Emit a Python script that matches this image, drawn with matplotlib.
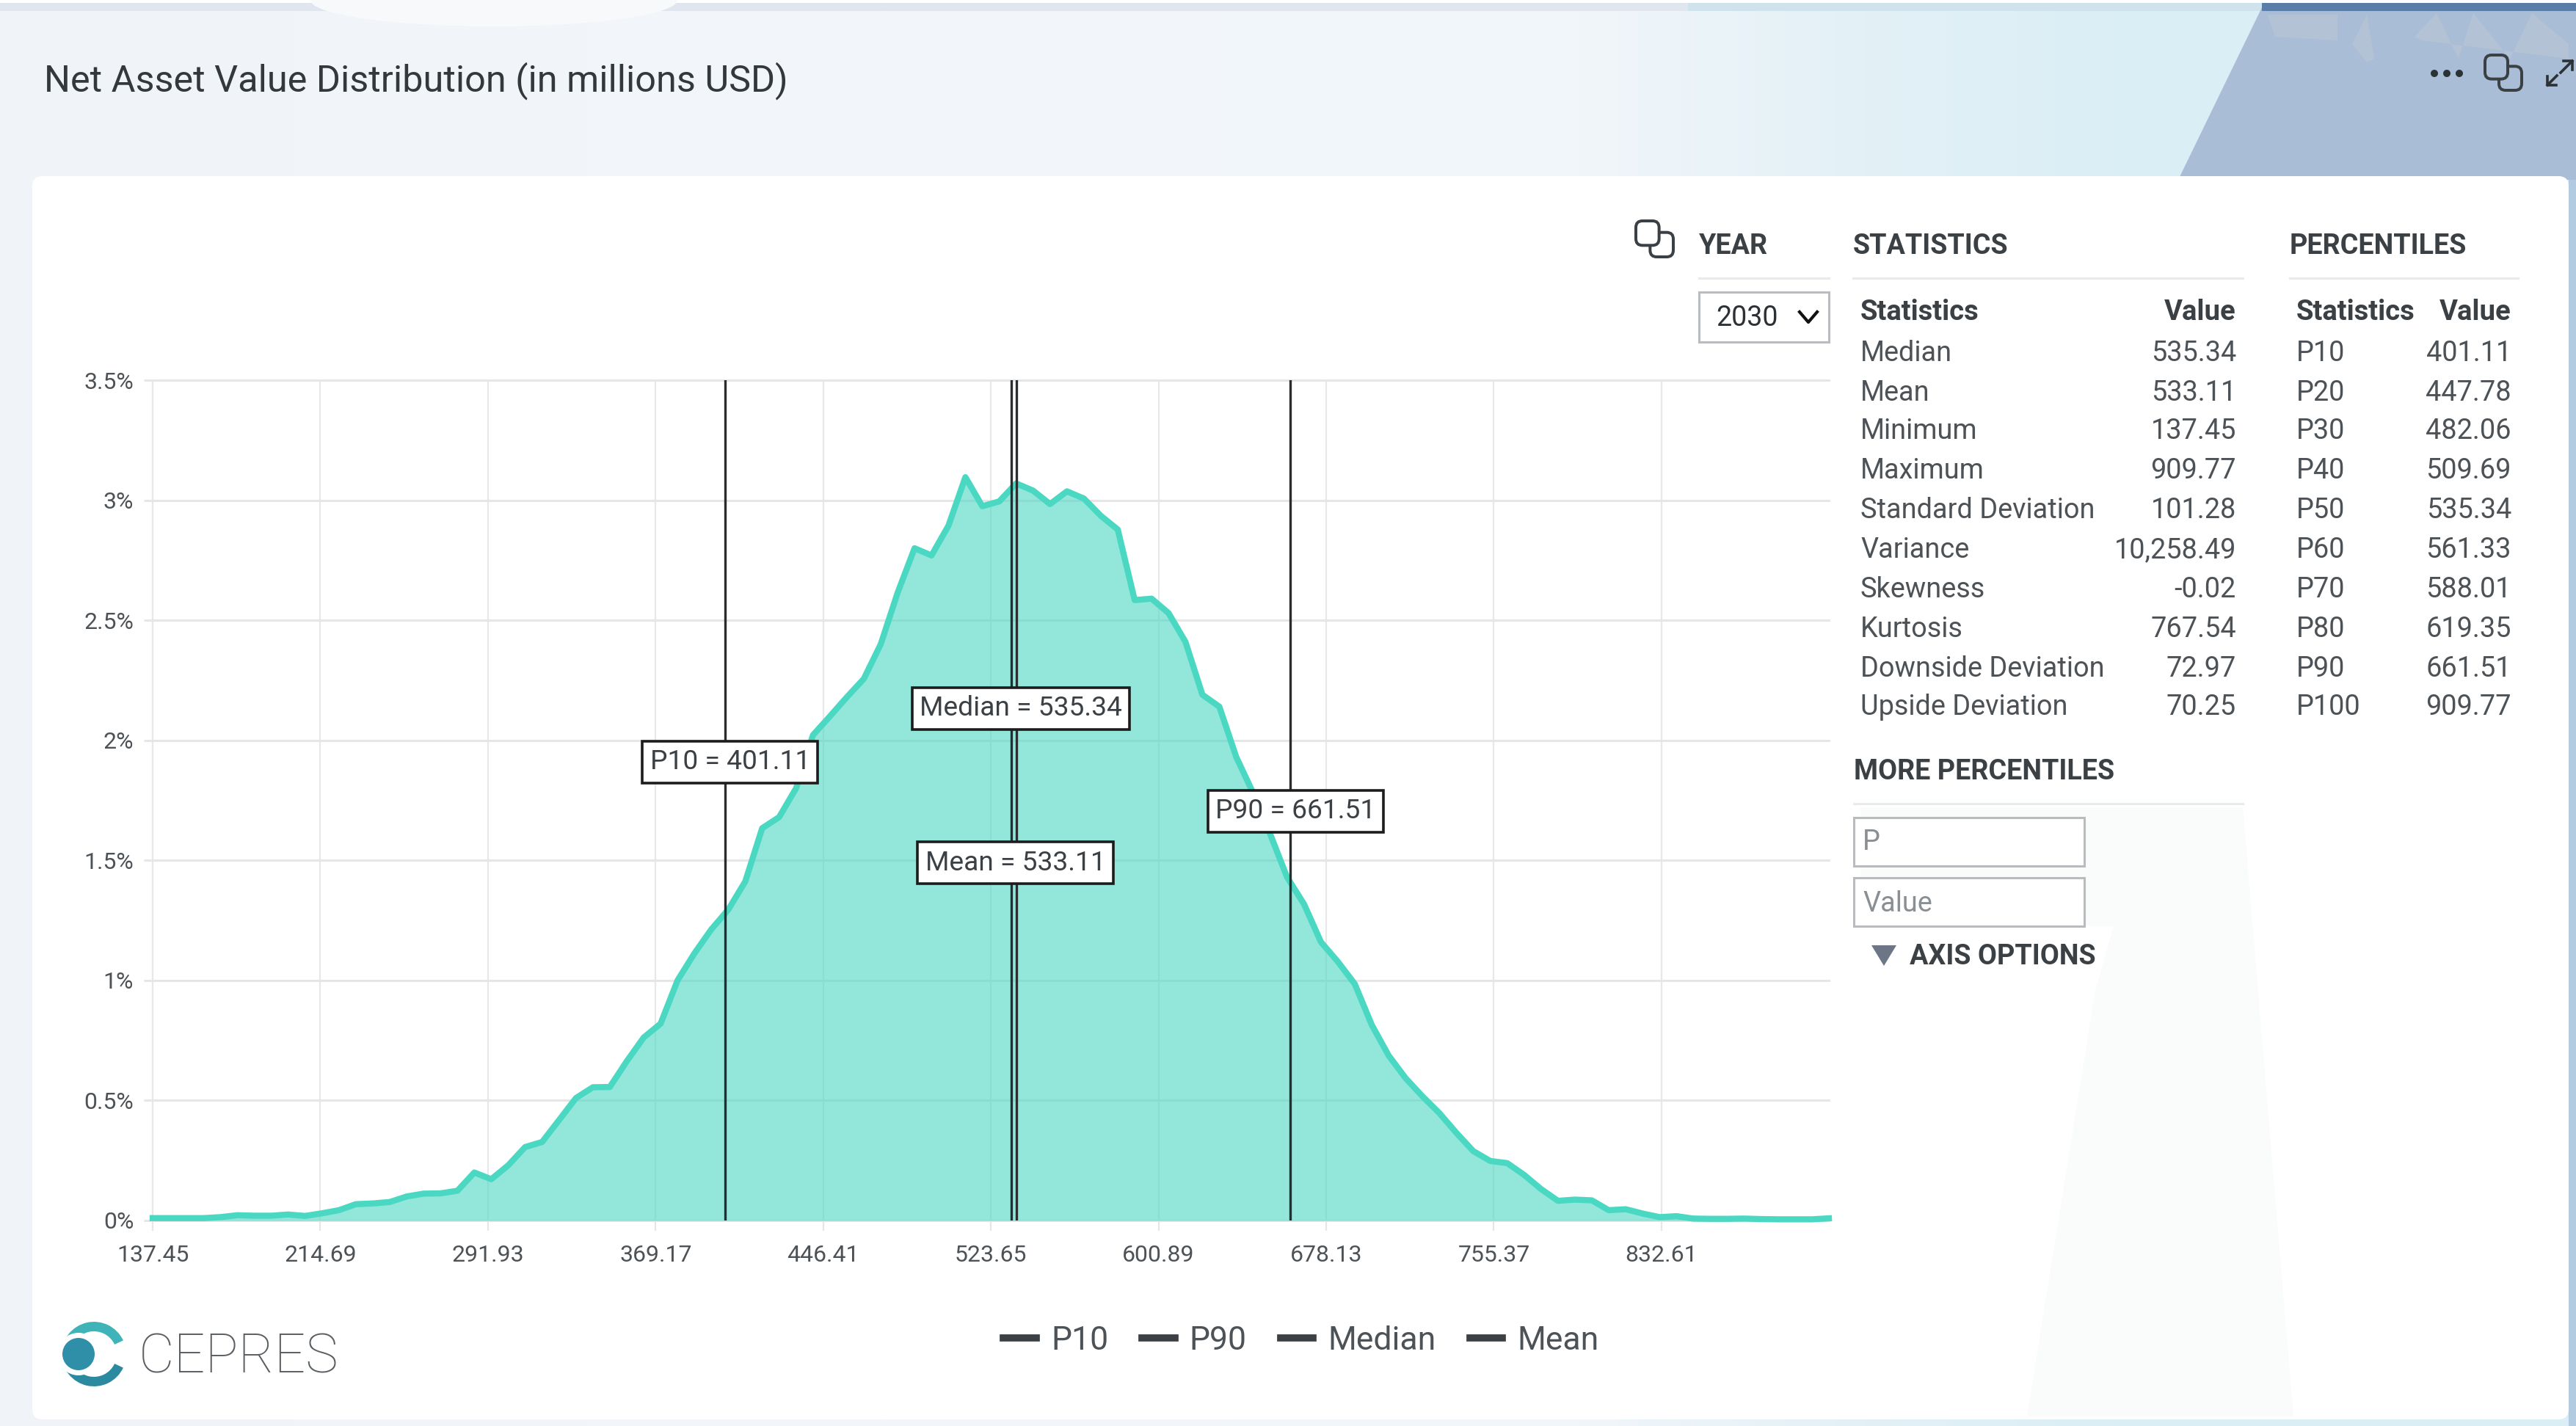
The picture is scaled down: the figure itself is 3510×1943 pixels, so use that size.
import numpy as np
import matplotlib
matplotlib.use("Agg")
import matplotlib.pyplot as plt
from matplotlib.patches import Polygon, Rectangle, FancyBboxPatch, Circle, Wedge, Ellipse

plt.rcParams['font.family'] = ['Roboto', 'DejaVu Sans']

# data
x_vals = [137.45, 145.25, 153.05, 160.85, 168.65, 176.46, 184.26, 192.06, 199.86, 207.66,
          215.46, 223.26, 231.06, 238.87, 246.67, 254.47, 262.27, 270.07, 277.87, 285.67,
          293.47, 301.28, 309.08, 316.88, 324.68, 332.48, 340.28, 348.08, 355.88, 363.68,
          371.49, 379.29, 387.09, 394.89, 402.69, 410.49, 418.29, 426.09, 433.90, 441.70,
          449.50, 457.30, 465.10, 472.90, 480.70, 488.50, 496.31, 504.11, 511.91, 519.71,
          527.51, 535.31, 543.11, 550.91, 558.71, 566.52, 574.32, 582.12, 589.92, 597.72,
          605.52, 613.32, 621.12, 628.93, 636.73, 644.53, 652.33, 660.13, 667.93, 675.73,
          683.53, 691.34, 699.14, 706.94, 714.74, 722.54, 730.34, 738.14, 745.94, 753.74,
          761.55, 769.35, 777.15, 784.95, 792.75, 800.55, 808.35, 816.15, 823.96, 831.76,
          839.56, 847.36, 855.16, 862.96, 870.76, 878.56, 886.37, 894.17, 901.97, 909.77]
density = [0.010, 0.010, 0.010, 0.010, 0.014, 0.022, 0.020, 0.020, 0.025, 0.019,
           0.030, 0.043, 0.068, 0.071, 0.077, 0.100, 0.112, 0.113, 0.124, 0.200,
           0.172, 0.230, 0.306, 0.327, 0.418, 0.510, 0.555, 0.556, 0.663, 0.762,
           0.820, 1.000, 1.113, 1.213, 1.295, 1.412, 1.634, 1.680, 1.800, 2.022,
           2.100, 2.180, 2.256, 2.400, 2.615, 2.800, 2.770, 2.894, 3.096, 2.975,
           2.995, 3.070, 3.040, 2.984, 3.037, 3.007, 2.935, 2.878, 2.584, 2.590,
           2.530, 2.410, 2.190, 2.140, 1.930, 1.780, 1.610, 1.430, 1.318, 1.160,
           1.078, 0.985, 0.815, 0.687, 0.593, 0.517, 0.447, 0.365, 0.289, 0.248,
           0.239, 0.190, 0.131, 0.082, 0.087, 0.084, 0.043, 0.047, 0.029, 0.014,
           0.018, 0.008, 0.007, 0.007, 0.008, 0.006, 0.005, 0.005, 0.005, 0.009]

x_ticks = [137.45, 214.69, 291.93, 369.17, 446.41, 523.65, 600.89, 678.13, 755.37, 832.61]
y_ticks = [0, 0.5, 1, 1.5, 2, 2.5, 3, 3.5]
y_labels = ['0%', '0.5%', '1%', '1.5%', '2%', '2.5%', '3%', '3.5%']

p10 = 401.11
p90 = 661.51
median = 535.34
mean = 533.11

stat_names = ['Median', 'Mean', 'Minimum', 'Maximum', 'Standard Deviation', 'Variance',
              'Skewness', 'Kurtosis', 'Downside Deviation', 'Upside Deviation']
stat_values = ['535.34', '533.11', '137.45', '909.77', '101.28', '10,258.49',
               '-0.02', '767.54', '72.97', '70.25']
pct_names = ['P10', 'P20', 'P30', 'P40', 'P50', 'P60', 'P70', 'P80', 'P90', 'P100']
pct_values = ['401.11', '447.78', '482.06', '509.69', '535.34', '561.33',
              '588.01', '619.35', '661.51', '909.77']

W, H = 3510, 1943
TEAL = '#4ad8c2'
GREY = '#4d5257'
DARK = '#3b4045'
RULE = '#e8eaec'

fig = plt.figure(figsize=(W / 100, H / 100), dpi=100)

# page layer, works in pixel coords
bg = fig.add_axes([0, 0, 1, 1], zorder=0)
bg.set_xlim(0, W)
bg.set_ylim(H, 0)
bg.axis('off')

xs = np.arange(W)
stops_x = [0, 1200, 2150, 2500, 2950, 3510]
stops = np.array([[240, 243, 247], [243, 246, 250], [241, 246, 250],
                  [228, 241, 247], [217, 238, 245], [217, 238, 245]]) / 255
grad = np.stack([np.interp(xs, stops_x, stops[:, k]) for k in range(3)], axis=-1)[None, :, :]
bg.imshow(grad, extent=(0, W, H, 0), aspect='auto', zorder=0)
bg.set_xlim(0, W)
bg.set_ylim(H, 0)

# top strip and the shapes in the header
bg.add_patch(Rectangle((0, 0), W, 4, fc='white', ec='none', zorder=1))
bg.add_patch(Rectangle((0, 4), W, 11, fc='#dfe6ee', ec='none', zorder=1))
bg.add_patch(Rectangle((2300, 4), 800, 11, fc='#cfe3ec', ec='none', zorder=1))
bg.add_patch(Ellipse((673, 0), 500, 72, fc='#f8f9fa', ec='none', zorder=1.5))
bg.add_patch(Polygon([(3085, 4), (W, 4), (W, 245), (2968, 245)], fc='#a9bed6', ec='none', zorder=2))
bg.add_patch(Rectangle((3082, 4), W - 3082, 11, fc='#5b7ea8', ec='none', zorder=2.1))
bg.add_patch(Rectangle((3500, 245), W - 3500, H - 245, fc='#b3cbe0', ec='none', zorder=2))
for tree in [[(3090, 20), (3185, 20), (3185, 55), (3100, 50)],
             [(3205, 60), (3225, 20), (3235, 80), (3225, 85)],
             [(3290, 50), (3320, 18), (3350, 80), (3370, 18), (3420, 80), (3450, 18), (3500, 60), (3500, 80), (3300, 55)]]:
    bg.add_patch(Polygon(tree, fc='#b3c3d5', ec='none', zorder=2.2))

# white card
bg.add_patch(FancyBboxPatch((56, 252), 3432, 1670, boxstyle='round,pad=12,rounding_size=14',
                            fc='white', ec='none', zorder=3))
bg.add_patch(Polygon([(2535, 1100), (3056, 1100), (3125, 1930), (2762, 1930), (2855, 1350), (2880, 1262), (2535, 1262)],
                     fc='#fafcfb', ec='none', zorder=3.1))

bg.text(60, 110, 'Net Asset Value Distribution (in millions USD)', fontsize=36.3, color='#33383c',
        va='center', ha='left', zorder=5)


def copy_icon(x, y, w, h, lw=4, back='white'):
    bw, bh = w * 0.62, h * 0.68
    bg.add_patch(FancyBboxPatch((x + w - bw, y + h - bh), bw, bh, boxstyle='round,pad=0,rounding_size=9',
                                fc='none', ec=DARK, lw=lw * 0.72, zorder=5))
    bg.add_patch(FancyBboxPatch((x, y), bw, bh, boxstyle='round,pad=0,rounding_size=9',
                                fc=back, ec=DARK, lw=lw * 0.72, zorder=5.1))


copy_icon(3386, 75, 50, 48, back='#a9bed6')
copy_icon(2229, 301, 51, 49)

# dots and expand arrows, top right
for cx in [3317, 3334, 3351]:
    bg.add_patch(Circle((cx, 100), 5, fc='#2c3136', ec='none', zorder=5))
bg.plot([3489, 3505], [99, 83], color='#2c3136', lw=2.6, zorder=5)
bg.plot([3493, 3505, 3505], [83, 83, 95], color='#2c3136', lw=2.6, zorder=5)
bg.plot([3484, 3471], [103, 116], color='#2c3136', lw=2.6, zorder=5)
bg.plot([3471, 3471, 3483], [104, 116, 116], color='#2c3136', lw=2.6, zorder=5)

# section headers
for label, xh, x0, x1, yh, yr in [('YEAR', 2315, 2315, 2492, 335, 379),
                                  ('STATISTICS', 2525, 2525, 3056, 335, 379),
                                  ('PERCENTILES', 3120, 3120, 3431, 335, 379),
                                  ('MORE PERCENTILES', 2526, 2526, 3056, 1052, 1095)]:
    bg.text(xh, yh, label, fontsize=27.2, fontweight='bold', color=DARK, va='center', ha='left', zorder=5)
    bg.plot([x0, x1], [yr, yr], color=RULE, lw=2.2, zorder=4)

# year select
bg.add_patch(Rectangle((2315, 398), 177, 68, fc='white', ec='#b8bcc0', lw=2.2, zorder=4))
bg.text(2338, 434, '2030', fontsize=27, color='#2c3136', va='center', ha='left', zorder=5)
bg.plot([2452, 2464, 2476], [425, 439, 425], color='#111111', lw=3, zorder=5)

# tables
bg.text(2535, 425, 'Statistics', fontsize=27.5, fontweight='bold', color=DARK, va='center', ha='left', zorder=5)
bg.text(3047, 425, 'Value', fontsize=27.5, fontweight='bold', color=DARK, va='center', ha='right', zorder=5)
bg.text(3129, 425, 'Statistics', fontsize=27.5, fontweight='bold', color=DARK, va='center', ha='left', zorder=5)
bg.text(3422, 425, 'Value', fontsize=27.5, fontweight='bold', color=DARK, va='center', ha='right', zorder=5)
row_y = [481, 535, 588, 642, 696, 750, 803, 857, 911, 964]
for i in range(len(row_y)):
    bg.text(2535, row_y[i], stat_names[i], fontsize=27.3, color=GREY, va='center', ha='left', zorder=5)
    bg.text(3047, row_y[i], stat_values[i], fontsize=27.3, color=GREY, va='center', ha='right', zorder=5)
    bg.text(3129, row_y[i], pct_names[i], fontsize=27.3, color=GREY, va='center', ha='left', zorder=5)
    bg.text(3422, row_y[i], pct_values[i], fontsize=27.3, color=GREY, va='center', ha='right', zorder=5)

# inputs
bg.add_patch(Rectangle((2526, 1114), 314, 66, fc='white', ec='#b8bcc0', lw=2.2, zorder=4))
bg.add_patch(Rectangle((2526, 1196), 314, 66, fc='white', ec='#b8bcc0', lw=2.2, zorder=4))
bg.text(2538, 1147, 'P', fontsize=27.3, color='#8a8f94', va='center', ha='left', zorder=5)
bg.text(2538, 1231, 'Value', fontsize=27.3, color='#8a8f94', va='center', ha='left', zorder=5)
bg.add_patch(Polygon([(2550, 1288), (2584, 1288), (2567, 1316)], fc='#6d7686', ec='none', zorder=5))
bg.text(2602, 1303, 'AXIS OPTIONS', fontsize=27.2, fontweight='bold', color=DARK, va='center', ha='left', zorder=5)

# logo
bg.add_patch(Wedge((128, 1845), 44, -180, -25, width=13, fc='#3fb4b8', ec='none', zorder=5))
bg.add_patch(Wedge((128, 1845), 44, 25, 180, width=13, fc='#2b8aa0', ec='none', zorder=5))
bg.add_patch(Circle((107, 1845), 29, fc='white', ec='none', zorder=5.1))
bg.add_patch(Circle((107, 1845), 22, fc='#2f8fa8', ec='none', zorder=5.2))
bg.text(189, 1850, 'CEPRES', fontsize=54, fontweight='light', color='#5a5f63', va='center', ha='left', zorder=5)

# chart
ax = fig.add_axes([208 / W, 1 - 1663 / H, (2492 - 208) / W, (1663 - 518) / H], zorder=1)
ax.patch.set_alpha(0)
ax.set_xlim(137.45, 909.77)
ax.set_ylim(0, 3.5)
for side in ax.spines:
    ax.spines[side].set_visible(False)

ax.set_xticks(x_ticks)
ax.set_xticklabels(['%.2f' % t for t in x_ticks])
ax.set_yticks(y_ticks)
ax.set_yticklabels(y_labels)
ax.tick_params(axis='x', length=10, width=1.6, color='#e6e6e6', labelsize=23, labelcolor=GREY, pad=14)
ax.tick_params(axis='y', length=8.6, width=2.2, color='#e6e6e6', labelsize=23, labelcolor=GREY, pad=10)
ax.grid(axis='x', color='#e8e8e8', lw=1.6, zorder=1)
ax.grid(axis='y', color='#e6e6e6', lw=2.2, zorder=1)
ax.set_axisbelow(True)
for g in ax.get_ygridlines() + ax.get_xgridlines():
    g.set_clip_on(False)

ax.fill_between(x_vals, density, 0, color=TEAL, alpha=0.6, lw=0, zorder=2)
ax.plot(x_vals, density, color=TEAL, lw=6, solid_joinstyle='round', zorder=3, clip_on=False)

ax.axvline(p10, color='#2a2d30', lw=2.4, zorder=4, label='P10')
ax.axvline(p90, color='#2a2d30', lw=2.4, zorder=4, label='P90')
ax.axvline(median, color='#2a2d30', lw=2.4, zorder=4, label='Median')
ax.axvline(mean, color='#2a2d30', lw=2.4, zorder=4, label='Mean')

box = dict(boxstyle='square,pad=0.28', fc='white', ec='#1c1c1c', lw=2.6)
ax.text(403.5, 1.91, 'P10 = %.2f' % p10, fontsize=26.7, color=DARK, ha='center', va='center', bbox=box, zorder=6)
ax.text(537.5, 2.133, 'Median = %.2f' % median, fontsize=26.7, color=DARK, ha='center', va='center', bbox=box, zorder=6)
ax.text(535, 1.49, 'Mean = %.2f' % mean, fontsize=26.7, color=DARK, ha='center', va='center', bbox=box, zorder=6)
ax.text(664, 1.705, 'P90 = %.2f' % p90, fontsize=26.7, color=DARK, ha='center', va='center', bbox=box, zorder=6)

leg = ax.legend(loc='center', bbox_to_anchor=(1773, 1827), bbox_transform=bg.transData, ncol=4, frameon=False,
                fontsize=32, handlelength=1.0, handletextpad=0.45, columnspacing=1.04, labelcolor=GREY,
                borderpad=0, borderaxespad=0)
for line in leg.get_lines():
    line.set_linewidth(7)
    line.set_color('#3b4044')

fig.savefig('out.png', dpi=100)
